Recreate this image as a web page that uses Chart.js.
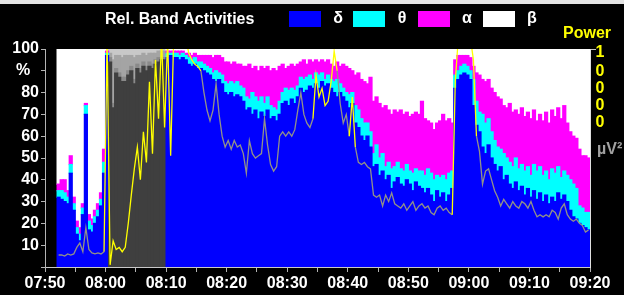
<!DOCTYPE html>
<html><head><meta charset="utf-8">
<script src="https://cdn.jsdelivr.net/npm/chart.js@4.4.1/dist/chart.umd.min.js"></script>
<style>
html,body{margin:0;padding:0;background:#000;overflow:hidden;}
#strip{height:4px;background:#e4e4e4;}
#wrap{position:relative;width:624px;height:291px;}
</style></head><body>
<div id="strip"></div>
<div id="wrap"><canvas id="c"></canvas></div>
<script>
// ---- data ----
const sampleTimes = [
"07:52:15","07:52:45","07:53:15","07:53:45","07:54:15","07:54:45","07:55:15","07:55:45","07:56:15","07:56:45",
"07:57:15","07:57:45","07:58:15","07:58:45","07:59:15","07:59:45","08:00:15","08:00:45","08:01:15","08:01:45",
"08:02:15","08:02:45","08:03:15","08:03:45","08:04:15","08:04:45","08:05:15","08:05:45","08:06:15","08:06:45",
"08:07:15","08:07:45","08:08:15","08:08:45","08:09:15","08:09:45","08:10:15","08:10:45","08:11:15","08:11:45",
"08:12:15","08:12:45","08:13:15","08:13:45","08:14:15","08:14:45","08:15:15","08:15:45","08:16:15","08:16:45",
"08:17:15","08:17:45","08:18:15","08:18:45","08:19:15","08:19:45","08:20:15","08:20:45","08:21:15","08:21:45",
"08:22:15","08:22:45","08:23:15","08:23:45","08:24:15","08:24:45","08:25:15","08:25:45","08:26:15","08:26:45",
"08:27:15","08:27:45","08:28:15","08:28:45","08:29:15","08:29:45","08:30:15","08:30:45","08:31:15","08:31:45",
"08:32:15","08:32:45","08:33:15","08:33:45","08:34:15","08:34:45","08:35:15","08:35:45","08:36:15","08:36:45",
"08:37:15","08:37:45","08:38:15","08:38:45","08:39:15","08:39:45","08:40:15","08:40:45","08:41:15","08:41:45",
"08:42:15","08:42:45","08:43:15","08:43:45","08:44:15","08:44:45","08:45:15","08:45:45","08:46:15","08:46:45",
"08:47:15","08:47:45","08:48:15","08:48:45","08:49:15","08:49:45","08:50:15","08:50:45","08:51:15","08:51:45",
"08:52:15","08:52:45","08:53:15","08:53:45","08:54:15","08:54:45","08:55:15","08:55:45","08:56:15","08:56:45",
"08:57:15","08:57:45","08:58:15","08:58:45","08:59:15","08:59:45","09:00:15","09:00:45","09:01:15","09:01:45",
"09:02:15","09:02:45","09:03:15","09:03:45","09:04:15","09:04:45","09:05:15","09:05:45","09:06:15","09:06:45",
"09:07:15","09:07:45","09:08:15","09:08:45","09:09:15","09:09:45","09:10:15","09:10:45","09:11:15","09:11:45",
"09:12:15","09:12:45","09:13:15","09:13:45","09:14:15","09:14:45","09:15:15","09:15:45","09:16:15","09:16:45",
"09:17:15","09:17:45","09:18:15","09:18:45","09:19:15","09:19:45"
];
// relative band activities, %
const delta = [
32,31,30,29,43,26,15,12,24,70, 17,16,20,23,28,43,97,94,73,89,
87,85,85,88,90,84,91,89,92,90, 92,91,93,94,95,95,96,97,96,96,
95,96,95,93,92,93,91,91,90,89, 88,86,85,86,84,80,79,80,78,79,
78,76,72,73,70,72,68,71,69,72, 68,69,67,70,75,76,74,77,75,78,
82,80,81,83,82,84,82,85,83,84, 82,80,78,80,78,76,73,75,66,64,
60,58,60,55,46,47,42,44,40,42, 36,39,41,38,37,40,38,35,39,37,
36,34,36,33,30,35,32,34,30,33, 36,82,86,88,89,88,86,74,65,62,
55,52,56,50,47,44,46,40,42,38, 36,39,35,37,33,36,32,35,31,34,
30,33,29,32,30,34,31,33,30,26, 23,22,20,19,18,17
];
const theta = [
3,4,4,3,4,3,3,3,3,4, 4,3,3,3,3,5,1,2,2,2,
2,2,2,2,2,2,2,2,2,2, 2,2,2,2,1,1,2,1,2,2,
2,2,2,3,3,3,3,3,3,3, 3,3,5,3,4,5,5,5,6,6,
5,6,6,4,10,6,8,7,6,6, 6,4,5,6,5,6,7,5,6,5,
5,6,6,5,4,5,6,4,3,4, 4,5,8,4,4,4,6,5,8,8,
8,8,6,7,6,9,8,8,6,6, 9,7,7,7,7,7,6,8,6,7,
8,8,9,10,10,7,9,8,10,10, 8,6,4,4,4,4,4,12,11,9,
15,14,12,12,11,11,8,12,8,10, 10,11,10,10,11,10,10,12,13,12,
12,11,11,13,13,12,10,11,12,14, 15,14,8,8,7,8
];
const alpha = [
3,5,6,3,4,3,3,3,2,1, 3,3,3,3,3,6,1,2,20,6,
8,9,10,7,5,10,4,6,4,5, 4,5,3,3,3,3,1,1,1,1,
2,1,1,2,2,2,3,3,4,5, 6,7,7,8,8,9,10,8,10,8,
10,10,14,16,11,14,14,14,16,14, 16,18,18,16,13,9,11,11,11,10,
7,9,6,7,8,6,6,6,8,7, 7,7,8,8,11,12,12,10,14,17,
18,19,18,25,24,22,25,21,28,24, 25,26,23,27,26,24,25,27,26,26,
32,26,22,23,23,24,26,28,27,25, 22,7,7,5,4,5,6,6,13,17,
16,19,18,20,22,23,23,22,23,27, 25,22,25,26,25,25,26,25,23,24,
25,27,26,27,26,27,27,30,24,22, 22,23,26,24,26,25
];
const beta = [
62,60,60,65,49,68,79,82,71,25, 76,78,74,71,66,46,1,2,5,3,
3,4,3,3,3,4,3,3,2,3, 2,2,2,1,1,1,1,1,1,1,
1,1,2,2,3,2,3,3,3,3, 3,4,3,3,4,6,6,7,6,7,
7,8,8,7,9,8,10,8,9,8, 10,9,10,8,7,9,8,7,8,7,
6,5,7,5,6,5,6,5,6,5, 7,8,6,8,7,8,9,10,12,11,
14,15,16,13,24,22,25,27,26,28, 30,28,29,28,30,29,31,30,29,30,
24,32,33,34,37,34,33,30,33,32, 34,5,3,3,3,3,4,8,11,12,
14,15,14,18,20,22,23,26,27,25, 29,28,30,27,31,29,32,28,33,30,
33,29,34,28,31,27,32,26,34,38, 40,41,46,49,49,50
];
// power, µV²
const power = [
550,550,500,600,550,600,900,1100,700,1800, 800,650,600,650,600,700,10500,100,1200,800,
900,700,900,2000,3300,4500,5500,4000,6200,4800, 8500,5200,9500,6800,10500,6400,10500,5100,10500,10500,
10500,10500,10500,9800,9500,9300,9200,9000,8000,7200, 6700,7200,8400,7000,6000,5500,5800,5400,5800,5500,
5600,5200,4300,5800,5200,5000,5100,5200,6800,5600, 4700,4400,4600,6000,6200,6000,6200,6000,6300,7200,
8000,7000,6600,6400,6800,8800,7800,8200,7400,7600, 8500,9900,9000,7500,6600,7000,6000,7800,5500,4800,
4700,4800,4600,4500,3300,3200,3300,2800,3300,3000, 3400,2900,2800,2700,2900,2600,2800,3000,2600,2800,
2900,2700,2800,2500,2400,2700,2800,2600,2700,2500, 2400,8500,10500,10500,10500,10500,10500,9500,6000,5300,
3800,4400,4500,4000,3500,3200,2800,3100,2900,2700, 3000,2800,2700,3000,2900,2700,3000,2600,2300,2400,
2300,2400,2300,2600,2500,2200,2700,2900,2400,2200, 2100,2200,2000,1900,1600,1700
];
const tickLabels = ["07:50","08:00","08:10","08:20","08:30","08:40","08:50","09:00","09:10","09:20"];
const bandNames = ["δ","θ","α","β"];
const axisStart = "07:50:00";
const artifactFrom = "08:00:30", artifactTo = "08:10:00";

// ---- styling ----
const FONT = "'Liberation Sans', Arial, sans-serif";
const bandColors = ["#0000ff","#00ffff","#ff00ff","#ffffff"];
const artifactColors = ["#3f3f3f","#8a8a8a","#a4a4a4","#c8c8c8"];
const yellowRanges = [[15,47],[84,92],[96,98],[130,138]];

function toMin(s){const p=s.split(':').map(Number);return p[0]*60+p[1]+(p[2]||0)/60;}
const t0 = toMin(axisStart);
const mins = sampleTimes.map(s => toMin(s) - t0);
const aFrom = toMin(artifactFrom)-t0, aTo = toMin(artifactTo)-t0;
const bandData = [delta, theta, alpha, beta];

const datasets = bandData.map((arr, k) => ({
  type:'bar', label: bandNames[k],
  data: arr.map((v,i)=>({x:mins[i], y:v})),
  backgroundColor: ctx => { const m = mins[ctx.dataIndex]; return (m>aFrom && m<aTo) ? artifactColors[k] : bandColors[k]; },
  borderWidth:0, barPercentage:1, categoryPercentage:1, inflateAmount:0.6, stack:'bands', order:2, yAxisID:'y'
}));
datasets.push({
  type:'line', label:'Power', yAxisID:'y1', order:0,
  data: power.map((v,i)=>({x:mins[i], y:v})),
  borderColor:'#929288', borderWidth:1.3, pointRadius:0, tension:0, fill:false,
  segment:{ borderColor: ctx => yellowRanges.some(r => ctx.p0DataIndex>=r[0] && ctx.p1DataIndex<=r[1]) ? '#ffff00' : undefined }
});

const headerPlugin = {
  id:'header',
  afterDraw(chart){
    const c = chart.ctx;
    c.save();
    c.font = "bold 16px " + FONT;
    c.textBaseline = 'alphabetic';
    c.fillStyle = '#ffffff'; c.textAlign = 'left';
    c.fillText('Rel. Band Activities', 105, 20);
    const boxX = [289, 353, 418, 483];
    for (let k=0;k<4;k++){
      c.fillStyle = bandColors[k];
      c.fillRect(boxX[k], 7, 32, 16);
      c.fillStyle = '#ffffff'; c.textAlign='center';
      c.fillText(bandNames[k], boxX[k]+49, 19);
    }
    c.fillStyle = '#ffff00'; c.textAlign='left';
    c.fillText('Power', 563, 34);
    c.textAlign='center'; c.textBaseline='middle';
    const chars = ['1','0','0','0','0'];
    const ys = [49, 67.5, 84.5, 101.5, 118.5];
    chars.forEach((ch,i)=>c.fillText(ch, 600, ys[i]));
    c.fillStyle = '#a0a0a0'; c.textAlign='left';
    c.fillText('µV²', 597, 146);
    c.restore();
  }
};

const tickFont = {family: FONT, size:16, weight:'bold'};
new Chart(document.getElementById('c'), {
  type:'bar',
  data:{ datasets },
  options:{
    responsive:true, maintainAspectRatio:false, animation:false, devicePixelRatio:1,
    layout:{ padding:{ top:45, left:0, right:0, bottom:0 } },
    plugins:{ legend:{display:false}, tooltip:{enabled:false} },
    scales:{
      x:{ type:'linear', min:0, max:90, stacked:true, offset:false,
        grid:{ display:true, drawOnChartArea:false, offset:false, tickLength:5, color:'#b4b4b4' },
        border:{ display:true, color:'#c8c8c8' },
        ticks:{ stepSize:5, autoSkip:false, maxRotation:0, minRotation:0, color:'#ffffff', font:tickFont, padding:2,
          callback: v => (v % 10 === 0) ? tickLabels[v/10] : '' },
        afterFit: s => { s.height = 28; } },
      y:{ position:'left', stacked:true, min:0, max:100,
        grid:{ drawOnChartArea:false, tickLength:4, color:'#b4b4b4' },
        border:{ color:'#b4b4b4' },
        ticks:{ stepSize:10, autoSkip:false, color:'#ffffff', font:tickFont, padding:2,
          callback: v => v === 0 ? '' : (v === 90 ? '%  ' : String(v)) },
        afterFit: s => { s.width = 45; } },
      y1:{ position:'right', min:0, max:10000, stacked:false,
        grid:{ drawOnChartArea:false, tickLength:6, color:'#c8c8c8' },
        border:{ color:'#e0e0e0' },
        ticks:{ display:false },
        afterBuildTicks: s => { s.ticks = [{value:10000}]; },
        afterFit: s => { s.width = 34; } }
    }
  },
  plugins:[headerPlugin]
});
</script>
</body></html>
